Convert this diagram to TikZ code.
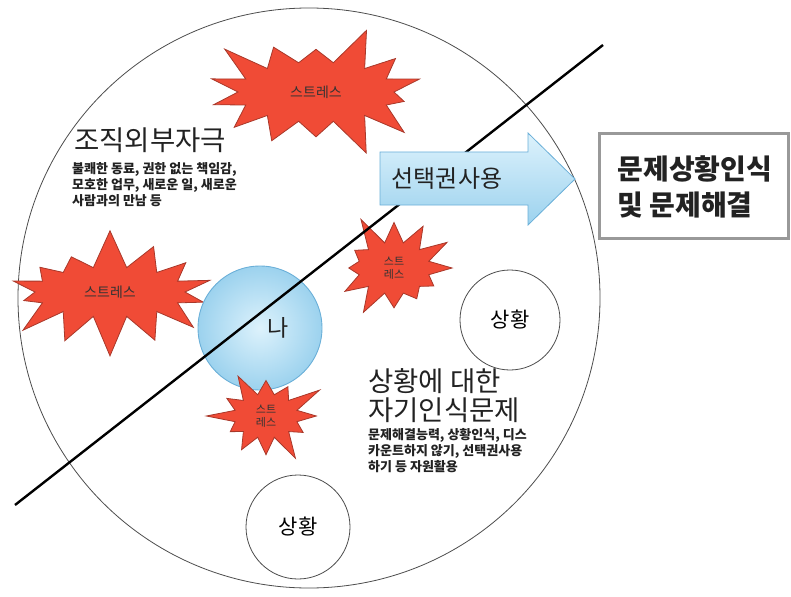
\documentclass[tikz,border=0pt]{standalone}
\usepackage{fontspec}
\setmainfont{Noto Sans CJK KR}
\usetikzlibrary{shapes.symbols}
\definecolor{burst}{HTML}{F04B36}
\definecolor{burstline}{HTML}{A8382A}
\definecolor{ballin}{HTML}{DDF2FC}
\definecolor{ballout}{HTML}{9CD2EE}
\definecolor{ballline}{HTML}{6AAFD8}
\definecolor{txt}{HTML}{222222}
\tikzset{
  burstbox/.style={starburst, fill=burst, draw=burstline, line width=0.8pt, inner sep=0pt, font=\fontsize{14}{15}\selectfont, text=black!80},
  sitcircle/.style={circle, draw=black!70, line width=0.8pt, fill=white, font=\fontsize{21}{23}\selectfont},
  smalltxt/.style={anchor=north west, align=left, font=\bfseries\fontsize{13}{16}\selectfont, text=txt, inner sep=0pt},
  bigtxt/.style={anchor=north west, align=left, font=\fontsize{27.5}{29}\selectfont, text=txt, inner sep=0pt}
}
\begin{document}
\begin{tikzpicture}[x=1pt,y=-1pt]
\useasboundingbox (0,0) rectangle (791,596);
% big circle
\draw[black!70, line width=0.8pt] (309,298) ellipse [x radius=291, y radius=290];
% situation circles
\node[sitcircle, minimum size=100pt] (sit1) at (510,320) {상황};
\node[sitcircle, minimum size=104pt] (sit2) at (298,527) {상황};
% starbursts
\node[burstbox, starburst points=14, starburst point height=40pt, random starburst=3, minimum width=236pt, minimum height=140pt] (b1) at (316,92) {스트레스};
\node[burstbox, starburst points=14, starburst point height=40pt, random starburst=7, minimum width=230pt, minimum height=130pt] (b2) at (110,292) {스트레스};
% me circle
\shade[inner color=ballin, outer color=ballout] (260,328) circle (62);
\draw[ballline, line width=0.9pt] (260,328) circle (62);
\node[font=\fontsize{23}{25}\selectfont, text=txt] (me) at (278,328) {나};
\node[burstbox, starburst points=12, starburst point height=32pt, random starburst=5, minimum width=136pt, minimum height=116pt, font=\fontsize{11}{13}\selectfont, align=center] (b3) at (394,268) {스트\\레스};
\node[burstbox, starburst points=12, starburst point height=30pt, random starburst=9, minimum width=124pt, minimum height=104pt, font=\fontsize{11}{13}\selectfont, align=center] (b4) at (266,416) {스트\\레스};
% diagonal line
\coordinate (l1) at (15,505);
\coordinate (l2) at (603,45);
\draw[black, line width=2.4pt] (l1) -- (l2);
% arrow
\shade[top color=ballin, bottom color=ballout, draw=ballline, line width=0.8pt]
  (380,152) -- (528,152) -- (528,133) -- (575,179) -- (528,225) -- (528,205) -- (380,205) -- cycle;
\node[font=\fontsize{24}{26}\selectfont, text=txt] (arr) at (447,179) {선택권사용};
% result box
\draw[black!40, line width=3pt, fill=white] (599,134) rectangle (788,238);
\node[font=\bfseries\fontsize{28}{36}\selectfont, text=txt, align=left, anchor=west] (res) at (614,187) {문제상황인식\\및 문제해결};
% texts
\node[bigtxt] (t1) at (74,128) {조직외부자극};
\node[smalltxt] (t2) at (72,162) {불쾌한 동료, 권한 없는 책임감,\\모호한 업무, 새로운 일, 새로운\\사람과의 만남 등};
\node[bigtxt] (t3) at (368,368) {상황에 대한\\자기인식문제};
\node[smalltxt] (t4) at (368,428) {문제해결능력, 상황인식, 디스\\카운트하지 않기, 선택권사용\\하기 등 자원활용};
\end{tikzpicture}
\end{document}
